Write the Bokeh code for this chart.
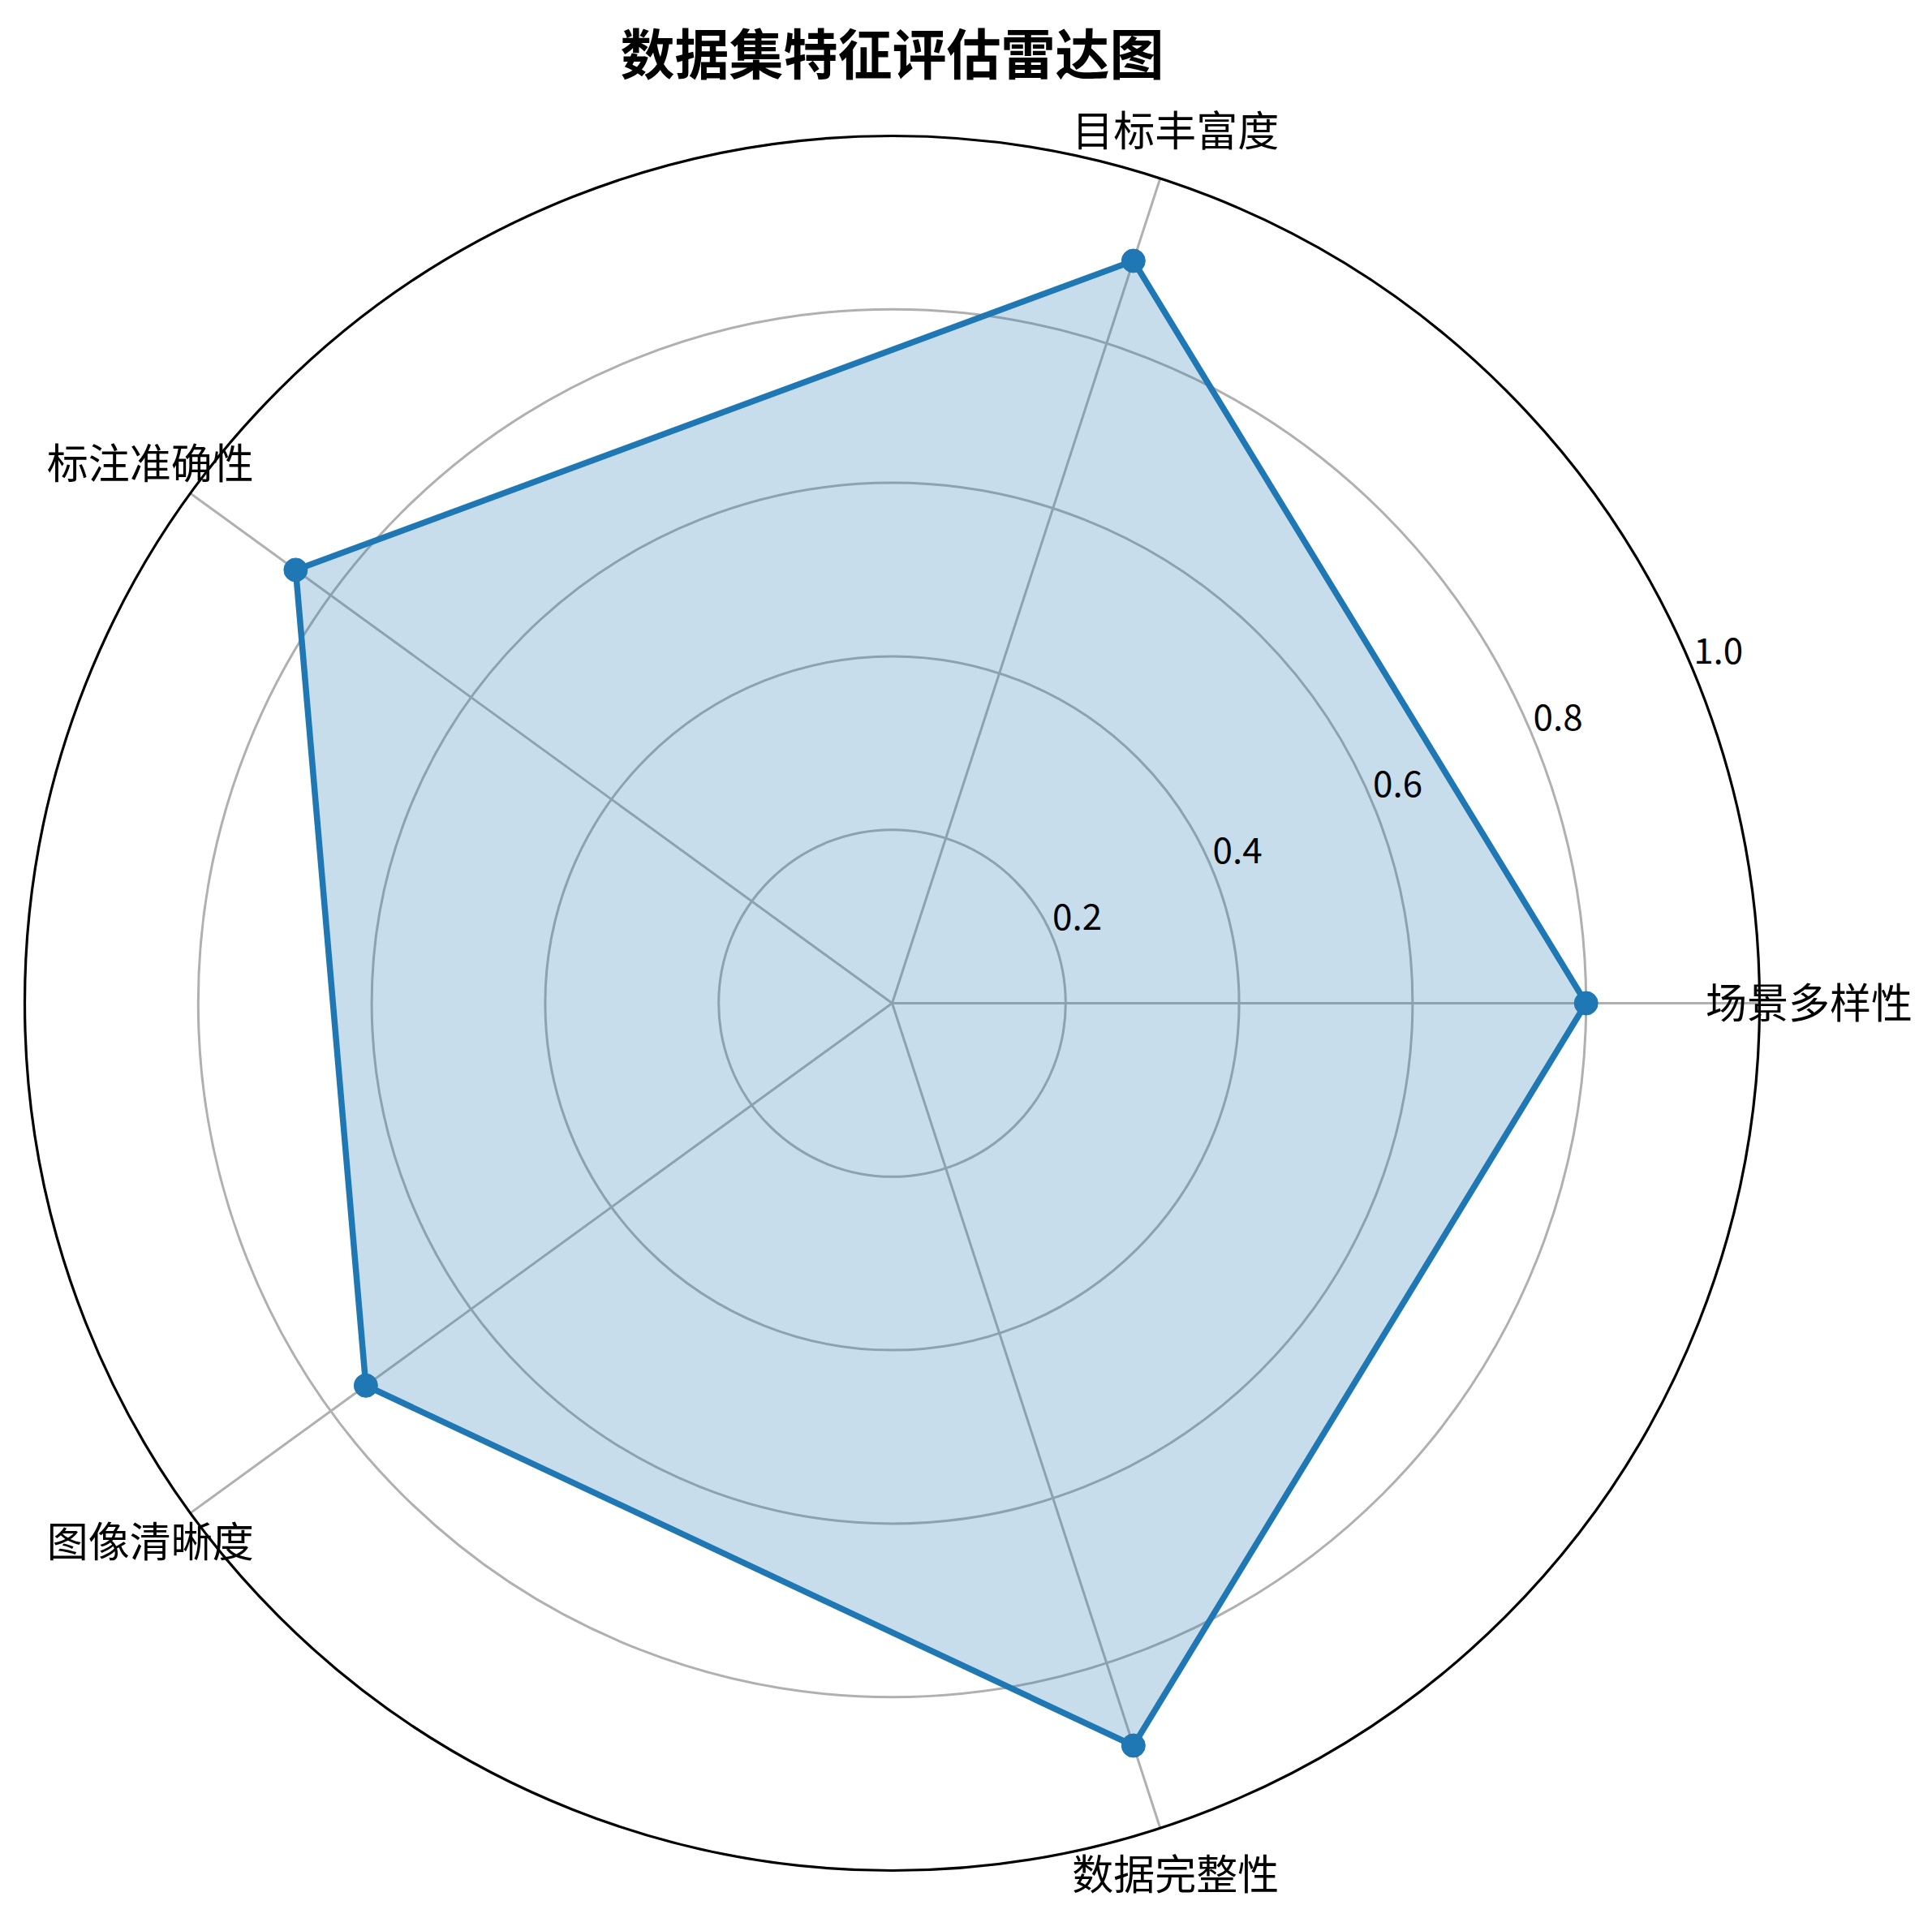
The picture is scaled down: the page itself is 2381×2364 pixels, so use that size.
import numpy as np
from bokeh.plotting import figure
from bokeh.models import Range1d, Label
from bokeh.core.properties import value
from bokeh.embed import file_html
from bokeh.resources import INLINE

# ---- data ----
categories = ["场景多样性", "目标丰富度", "标注准确性", "图像清晰度", "数据完整性"]
scores = [0.80, 0.90, 0.85, 0.75, 0.90]
ring_levels = [0.2, 0.4, 0.6, 0.8]
tick_labels = ["0.2", "0.4", "0.6", "0.8", "1.0"]
tick_values = [0.2, 0.4, 0.6, 0.8, 1.0]
title_text = "数据集特征评估雷达图"

# ---- layout (pixels) ----
W, H = 2365, 2348
CX, CY = 1099, 1236          # centre in canvas pixels (from top-left)
R = 1069.0                   # pixels per unit radius

FONT = "Noto Sans CJK SC"
BLUE = "#1f77b4"
GRID = "#b0b0b0"

p = figure(width=W, height=H, output_backend="svg", toolbar_location=None,
           x_range=Range1d(-CX / R, (W - CX) / R),
           y_range=Range1d(-(H - CY) / R, CY / R),
           min_border=0)
p.axis.visible = False
p.grid.visible = False
p.outline_line_color = None
p.background_fill_color = "white"
p.border_fill_color = "white"

n = len(categories)
theta = np.arange(n) * 2 * np.pi / n

# grid rings
p.circle(x=[0] * len(ring_levels), y=[0] * len(ring_levels), radius=ring_levels,
         fill_color=None, line_color=GRID, line_width=3)
# spokes
p.segment(x0=[0] * n, y0=[0] * n, x1=np.cos(theta), y1=np.sin(theta),
          line_color=GRID, line_width=3)

# data polygon
vals = np.array(scores)
xs = vals * np.cos(theta)
ys = vals * np.sin(theta)
p.patch(x=list(xs), y=list(ys), fill_color=BLUE, fill_alpha=0.25, line_color=None)
p.line(x=list(xs) + [xs[0]], y=list(ys) + [ys[0]], line_color=BLUE, line_width=7.5,
       line_join="round")
p.scatter(x=xs, y=ys, size=29, fill_color=BLUE, line_color=BLUE)

# outer circle (spine)
p.circle(x=[0], y=[0], radius=[1.0], fill_color=None, line_color="black", line_width=3.2)

# radial tick labels at 22.5 deg
ang = np.deg2rad(22.5)
tv = np.array(tick_values)
p.text(x=tv * np.cos(ang), y=tv * np.sin(ang), text=tick_labels,
       text_font=value(FONT), text_font_size="44px", text_color="black",
       text_align="left", text_baseline="alphabetic", x_offset=0, y_offset=-25)

# category labels
lab_r = 1.057
p.text(x=lab_r * np.cos(theta), y=lab_r * np.sin(theta), text=categories,
       text_font=value(FONT), text_font_size="51px", text_color="black",
       text_align="center", text_baseline="middle", y_offset=-4)

# title
p.add_layout(Label(x=1099, y=H - 62, x_units="screen", y_units="screen",
                   text=title_text, text_font=FONT, text_font_size="67px",
                   text_font_style="bold", text_align="center",
                   text_baseline="middle", text_color="black"))

open("out.html", "w").write(file_html(p, INLINE))
